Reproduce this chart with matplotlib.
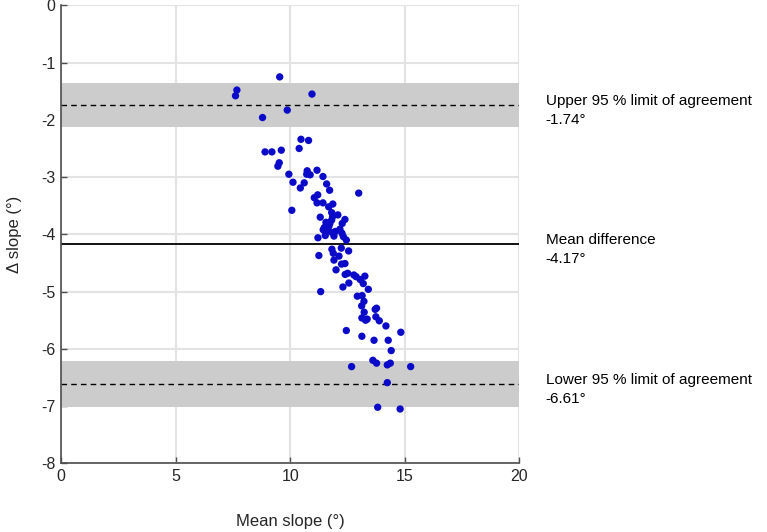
import matplotlib.pyplot as plt

plt.rcParams['font.family'] = ['Liberation Sans', 'DejaVu Sans']
plt.rcParams['axes.unicode_minus'] = False

# Bland-Altman data
mean_slope = [
    9.54, 7.67, 7.61, 10.95, 9.87, 8.79, 10.47, 10.80, 8.90, 9.20,
    9.61, 10.39, 9.52, 9.46, 9.94, 10.12, 10.44, 10.61, 10.74, 10.72,
    10.87, 11.17, 11.43, 11.59, 11.72, 11.05, 11.20, 11.17, 11.43, 11.68,
    11.86, 10.07, 12.99, 11.81, 12.08, 11.85, 12.39, 11.31, 11.81, 11.56,
    11.73, 12.27, 11.49, 11.69, 12.17, 11.44, 11.65, 11.83, 11.97, 12.26,
    11.53, 11.91, 12.32, 11.21, 12.45, 11.82, 11.88, 12.23, 12.55, 11.25,
    12.13, 11.91, 12.24, 12.39, 12.00, 12.40, 12.51, 12.78, 12.88, 13.26,
    13.06, 13.19, 12.56, 12.30, 13.41, 11.33, 12.93, 13.14, 13.22, 13.12,
    13.77, 13.71, 13.23, 13.13, 13.29, 13.36, 13.74, 13.89, 14.18, 12.45,
    14.83, 13.13, 13.66, 14.28, 14.41, 13.61, 13.77, 12.68, 14.24, 14.37,
    15.26, 14.24, 13.82, 14.80,
]
diff_slope = [
    -1.25, -1.48, -1.58, -1.55, -1.83, -1.96, -2.34, -2.36, -2.56, -2.56,
    -2.53, -2.50, -2.75, -2.81, -2.95, -3.09, -3.19, -3.10, -2.89, -2.95,
    -2.96, -2.88, -2.99, -3.12, -3.23, -3.36, -3.31, -3.45, -3.45, -3.52,
    -3.47, -3.58, -3.28, -3.62, -3.66, -3.69, -3.74, -3.70, -3.75, -3.79,
    -3.81, -3.81, -3.88, -3.86, -3.91, -3.92, -3.94, -3.97, -3.95, -3.98,
    -4.02, -4.03, -4.04, -4.06, -4.10, -4.26, -4.33, -4.24, -4.29, -4.37,
    -4.38, -4.45, -4.52, -4.51, -4.62, -4.70, -4.68, -4.71, -4.74, -4.73,
    -4.79, -4.86, -4.85, -4.92, -4.96, -5.00, -5.08, -5.07, -5.17, -5.25,
    -5.29, -5.31, -5.36, -5.46, -5.50, -5.48, -5.44, -5.51, -5.60, -5.68,
    -5.71, -5.78, -5.85, -5.85, -6.03, -6.20, -6.25, -6.31, -6.28, -6.25,
    -6.31, -6.59, -7.02, -7.05,
]

mean_diff = -4.17
upper_loa = -1.74
lower_loa = -6.61
upper_ci = [-2.13, -1.35]
lower_ci = [-7.01, -6.22]

labels = ['Upper 95 % limit of agreement', 'Mean difference', 'Lower 95 % limit of agreement']
values = [upper_loa, mean_diff, lower_loa]

fig = plt.figure(figsize=(7.67, 5.32), dpi=100)
ax = fig.add_axes([0.0799, 0.129, 0.597, 0.861])

# confidence bands around limits of agreement
ax.axhspan(upper_ci[0], upper_ci[1], color='#cccccc', lw=0, zorder=1)
ax.axhspan(lower_ci[0], lower_ci[1], color='#cccccc', lw=0, zorder=1)

ax.axhline(upper_loa, color='black', ls=(0, (4, 3)), lw=1.0, zorder=2)
ax.axhline(lower_loa, color='black', ls=(0, (4, 3)), lw=1.0, zorder=2)
ax.axhline(mean_diff, color='black', lw=1.3, zorder=2)

ax.scatter(mean_slope, diff_slope, s=28, color='#0a0ac8', edgecolors='none', zorder=3)

ax.set_xlim(0, 20)
ax.set_ylim(-8, 0)
ax.set_xticks([0, 5, 10, 15, 20])
ax.set_yticks(range(-8, 1))
ax.grid(True, color='#e3e3e3', lw=1.5, zorder=0)
ax.set_axisbelow(True)

for side in ['top', 'right']:
    ax.spines[side].set_visible(False)
for side in ['left', 'bottom']:
    ax.spines[side].set_color('#4d4d4d')
    ax.spines[side].set_linewidth(1.2)

ax.tick_params(direction='in', length=4, width=1, colors='#4d4d4d',
               labelcolor='#262626', labelsize=11.5, pad=4)

ax.set_xlabel('Mean slope (°)', fontsize=12, color='#262626', labelpad=22)
ax.set_ylabel('Δ slope (°)', fontsize=12, color='#262626', labelpad=14)

# annotations to the right of the axes
for lab, val in zip(labels, values):
    ax.annotate(lab, xy=(1.0, val), xycoords=('axes fraction', 'data'),
                xytext=(19, 3), textcoords='offset points',
                va='center', ha='left', fontsize=11, color='black',
                annotation_clip=False)
    ax.annotate(f'{val:.2f}°', xy=(1.0, val), xycoords=('axes fraction', 'data'),
                xytext=(19, -11), textcoords='offset points',
                va='center', ha='left', fontsize=11, color='black',
                annotation_clip=False)

fig.savefig('out.png', dpi=100)
